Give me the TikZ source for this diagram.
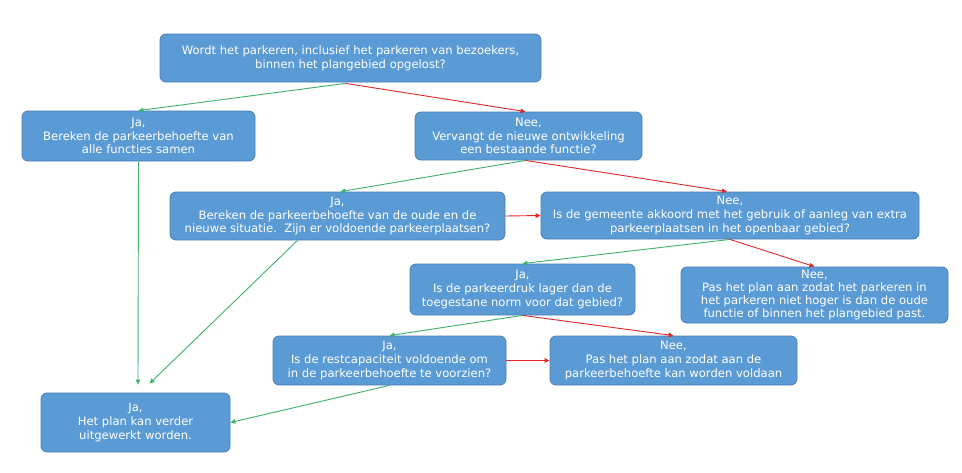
\documentclass[tikz,border=0pt]{standalone}
\usepackage{fontspec}
\setmainfont{DejaVu Sans}
\usetikzlibrary{arrows.meta,calc}
\definecolor{boxfill}{HTML}{5B9BD5}
\definecolor{boxline}{HTML}{4A7EBB}
\definecolor{yesgreen}{HTML}{3DB26A}
\definecolor{nored}{HTML}{E02828}
\tikzset{
  box/.style={rectangle, rounded corners=6pt, fill=boxfill, draw=boxline, line width=0.8pt,
    text=white, align=center, inner sep=0pt, font=\fontsize{11.6}{13.8}\selectfont},
  yes/.style={draw=yesgreen, line width=0.9pt, -{Triangle[length=5pt,width=4.5pt]}},
  no/.style={draw=nored, line width=0.9pt, -{Triangle[length=5pt,width=4.5pt]}}
}
\begin{document}
\begin{tikzpicture}[x=1pt,y=-1pt]
\fill[white] (0,0) rectangle (962,472);
\useasboundingbox (0,0) rectangle (962,472);

\node[box, minimum width=381, minimum height=48] (top) at (350.5,58)
 {Wordt het parkeren, inclusief het parkeren van bezoekers,\\binnen het plangebied opgelost?};
\node[box, minimum width=233, minimum height=50] (jaL) at (138.5,136)
 {Ja,\\Bereken de parkeerbehoefte van\\alle functies samen};
\node[box, minimum width=227, minimum height=48] (neeR) at (528.5,136)
 {Nee,\\Vervangt de nieuwe ontwikkeling\\een bestaande functie?};
\node[box, minimum width=335, minimum height=48] (jaB) at (337.5,216)
 {Ja,\\Bereken de parkeerbehoefte van de oude en de\\nieuwe situatie.\ \ Zijn er voldoende parkeerplaatsen?};
\node[box, minimum width=378, minimum height=47] (neeB) at (730,215.5)
 {Nee,\\Is de gemeente akkoord met het gebruik of aanleg van extra\\parkeerplaatsen in het openbaar gebied?};
\node[box, minimum width=225, minimum height=51] (jaC) at (522.5,289.5)
 {Ja,\\Is de parkeerdruk lager dan de\\toegestane norm voor dat gebied?};
\node[box, minimum width=267, minimum height=56, font=\fontsize{11.6}{13.3}\selectfont] (neeC) at (814.5,295)
 {Nee,\\Pas het plan aan zodat het parkeren in\\het parkeren niet hoger is dan de oude\\functie of binnen het plangebied past.};
\node[box, minimum width=233, minimum height=49] (jaD) at (389.5,360.5)
 {Ja,\\Is de restcapaciteit voldoende om\\in de parkeerbehoefte te voorzien?};
\node[box, minimum width=247, minimum height=49] (neeD) at (673.5,360.5)
 {Nee,\\Pas het plan aan zodat aan de\\parkeerbehoefte kan worden voldaan};
\node[box, minimum width=189, minimum height=59] (fin) at (135.5,422.5)
 {Ja,\\Het plan kan verder\\uitgewerkt worden.};

\draw[yes] ($(top.south)+(-5,1)$) -- (jaL.north);
\draw[no]  ($(top.south)+(-5,1)$) -- ($(neeR.north)+(-3,0)$);
\draw[yes] (jaL.south) -- ($(fin.north)+(2.5,-8)$);
\draw[yes] ($(neeR.south)+(-3,0)$) -- ($(jaB.north)+(3,0)$);
\draw[no]  ($(neeR.south)+(-3,0)$) -- ($(neeB.north)+(-3,0)$);
\draw[no]  (jaB.east) -- (neeB.west);
\draw[yes] ($(jaB.south)+(-40,0)$) -- ($(fin.north)+(14,-9)$);
\draw[yes] (neeB.south) -- (jaC.north);
\draw[no]  (neeB.south) -- (neeC.north);
\draw[yes] (jaC.south) -- (jaD.north);
\draw[no]  (jaC.south) -- (neeD.north);
\draw[no]  (jaD.east) -- (neeD.west);
\draw[yes] (jaD.south) -- (fin.east);
\end{tikzpicture}
\end{document}
